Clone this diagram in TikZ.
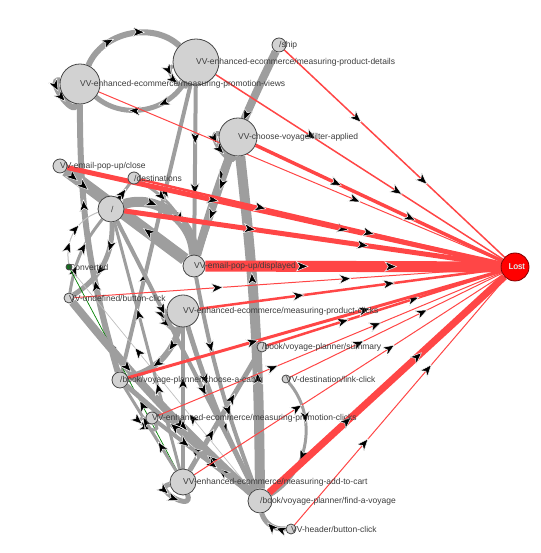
\documentclass[tikz,border=0pt]{standalone}
\usepackage{fontspec}
\setmainfont{Liberation Sans}
\usetikzlibrary{arrows.meta,decorations.markings}

\definecolor{flowgray}{RGB}{158,158,158}
\definecolor{lostred}{RGB}{255,70,70}
\definecolor{nodegray}{RGB}{210,210,210}
\definecolor{rimgray}{RGB}{70,70,70}
\definecolor{labelgray}{RGB}{60,60,60}
\definecolor{convgreen}{RGB}{20,110,30}

\pgfdeclarelayer{flows}
\pgfsetlayers{flows,main}

\newcommand{\flowtip}{\arrow[scale=1.6]{Stealth[length=8pt,width=6.5pt,inset=2.2pt,line width=0.3pt,color=white,fill=black]}}

\tikzset{
  midarrows/.style={postaction={decorate,decoration={markings,
      mark=at position 0.35 with {\flowtip},
      mark=at position 0.65 with {\flowtip}}}},
  flow/.style={draw=flowgray,line width=#1,midarrows},
  lostflow/.style={draw=lostred,line width=#1,midarrows},
  state/.style={circle,draw=rimgray,fill=nodegray,line width=0.8pt,inner sep=0pt,minimum size=#1},
  lbl/.style={anchor=west,inner sep=0pt,text=labelgray,font=\fontsize{8.5}{9}\selectfont},
}

\begin{document}
\begin{tikzpicture}[x=1pt,y=1pt]
\useasboundingbox (0,0) rectangle (540,553);

% states
\node[state=40pt] (pv) at (80,469) {};
\node[state=46pt] (pd) at (196,491) {};
\node[state=14pt] (ship) at (279,508) {};
\node[state=38pt] (fa) at (238,416) {};
\node[state=14pt] (close) at (60,387) {};
\node[state=12pt] (dest) at (134,375) {};
\node[state=26pt] (root) at (111,344) {};
\node[state=6pt,fill=convgreen] (conv) at (69,286) {};
\node[state=22pt] (disp) at (194,287) {};
\node[state=10pt] (undef) at (69,255) {};
\node[state=32pt] (pc) at (183,242) {};
\node[state=10pt] (summ) at (262,206) {};
\node[state=16pt] (cabin) at (120,173) {};
\node[state=8pt] (dl) at (286,174) {};
\node[state=12pt] (pcl) at (152,135) {};
\node[state=26pt] (atc) at (183,71) {};
\node[state=24pt] (fv) at (260,52) {};
\node[state=10pt] (hdr) at (291,24) {};
\node[state=28pt,fill=red,draw=red!50!black] (lost) at (515,286) {};

\begin{pgfonlayer}{flows}
% flows between pages
\draw[flow=6pt] (pv) to[bend left=55] (pd);
\draw[flow=5pt] (pd) to[bend left=50] (pv);
\draw[flow=6pt] (pv) to[out=170,in=260,min distance=15pt] (pv);
\draw[flow=4pt] (pd) to[out=190,in=250,min distance=12pt] (pd);
\draw[flow=8pt] (ship) to[bend right=5] (disp);
\draw[flow=5pt] (fa) to[out=170,in=260,min distance=15pt] (fa);
\draw[flow=10pt] (fv) to[bend right=3] (fa);
\draw[flow=6pt] (cabin) to[bend left=8] (pv);
\draw[flow=12pt] (disp) -- (close);
\draw[flow=3pt] (close) -- (root);
\draw[flow=10pt] (root) to[bend left=55] (disp);
\draw[flow=4pt] (pd) -- (disp);
\draw[flow=4pt] (cabin) -- (pd);
\draw[flow=3pt] (dest) to[bend left=25] (disp);
\draw[flow=3pt] (root) -- (dest);
\draw[flow=5pt] (fa) -- (disp);
\draw[flow=5pt] (root) to[bend left=30] (undef);
\draw[flow=3pt] (undef) to[bend left=15] (root);
\draw[flow=1pt,draw=gray!50] (conv) to[bend left=40] (root);
\draw[flow=0.7pt,draw=green!50!black] (atc) -- (conv);
\draw[flow=0.7pt,draw=gray!50] (fv) -- (conv);
\draw[flow=8pt] (undef) to[bend right=4] (fv);
\draw[flow=6pt] (pc) to[bend left=30] (cabin);
\draw[flow=5pt] (pc) to[out=180,in=260,min distance=13pt] (pc);
\draw[flow=5pt] (pc) to[bend right=5] (fv);
\draw[flow=3pt] (pcl) to[out=180,in=300,min distance=20pt] (pcl);
\draw[flow=5pt] (atc) to[out=190,in=290,min distance=20pt] (atc);
\draw[flow=5pt] (hdr) to[bend left=40] (fv);
\draw[flow=3pt] (dl) to[bend left=50] (fv);
\draw[flow=5pt] (atc) -- (summ);
\draw[flow=4pt] (atc) -- (pc);
\draw[flow=3pt] (atc) -- (root);
\draw[flow=3pt] (atc) -- (cabin);
\draw[flow=5pt] (fv) -- (cabin);
\draw[flow=4pt] (fv) -- (pcl);
\draw[flow=4pt] (root) -- (fv);
\draw[flow=3pt] (pcl) -- (fv);
\draw[flow=4pt] (disp) to[bend right=5] (fv);

% flows to Lost
\draw[lostflow=1.5pt] (ship) -- (lost);
\draw[lostflow=1.5pt] (pd) -- (lost);
\draw[lostflow=1pt] (pv) -- (lost);
\draw[lostflow=3.5pt] (fa) -- (lost);
\draw[lostflow=5pt] (close) -- (lost);
\draw[lostflow=2.5pt] (dest) -- (lost);
\draw[lostflow=5pt] (root) -- (lost);
\draw[lostflow=11pt] (disp) -- (lost);
\draw[lostflow=1pt] (undef) -- (lost);
\draw[lostflow=2.5pt] (pc) -- (lost);
\draw[lostflow=2.5pt] (summ) -- (lost);
\draw[lostflow=3pt] (cabin) -- (lost);
\draw[lostflow=1pt] (pcl) -- (lost);
\draw[lostflow=1pt] (dl) -- (lost);
\draw[lostflow=1pt] (atc) -- (lost);
\draw[lostflow=7pt] (fv) -- (lost);
\draw[lostflow=1pt] (hdr) -- (lost);
\end{pgfonlayer}

% labels
\node[lbl] (pv-t) at (pv.center) {VV-enhanced-ecommerce/measuring-promotion-views};
\node[lbl] (pd-t) at (pd.center) {VV-enhanced-ecommerce/measuring-product-details};
\node[lbl] (ship-t) at (ship.center) {/ship};
\node[lbl] (fa-t) at (fa.center) {VV-choose-voyage/filter-applied};
\node[lbl] (close-t) at (close.center) {VV-email-pop-up/close};
\node[lbl] (dest-t) at (dest.center) {/destinations};
\node[lbl] (root-t) at (root.center) {/};
\node[lbl] (conv-t) at (conv.center) {Converted};
\node[lbl] (disp-t) at (disp.center) {VV-email-pop-up/displayed};
\node[lbl] (undef-t) at (undef.center) {VV-undefined/button-click};
\node[lbl] (pc-t) at (pc.center) {VV-enhanced-ecommerce/measuring-product-clicks};
\node[lbl] (summ-t) at (summ.center) {/book/voyage-planner/summary};
\node[lbl] (cabin-t) at (cabin.center) {/book/voyage-planner/choose-a-cabin};
\node[lbl] (dl-t) at (dl.center) {VV-destination/link-click};
\node[lbl] (pcl-t) at (pcl.center) {VV-enhanced-ecommerce/measuring-promotion-clicks};
\node[lbl] (atc-t) at (atc.center) {VV-enhanced-ecommerce/measuring-add-to-cart};
\node[lbl] (fv-t) at (fv.center) {/book/voyage-planner/find-a-voyage};
\node[lbl] (hdr-t) at (hdr.center) {VV-header/button-click};
\node[lbl,text=gray!80,xshift=-6pt] (lost-s) at (lost.center) {Lost};
\node[lbl,text=white,xshift=-6.6pt,yshift=0.4pt] (lost-t) at (lost.center) {Lost};
\end{tikzpicture}
\end{document}
